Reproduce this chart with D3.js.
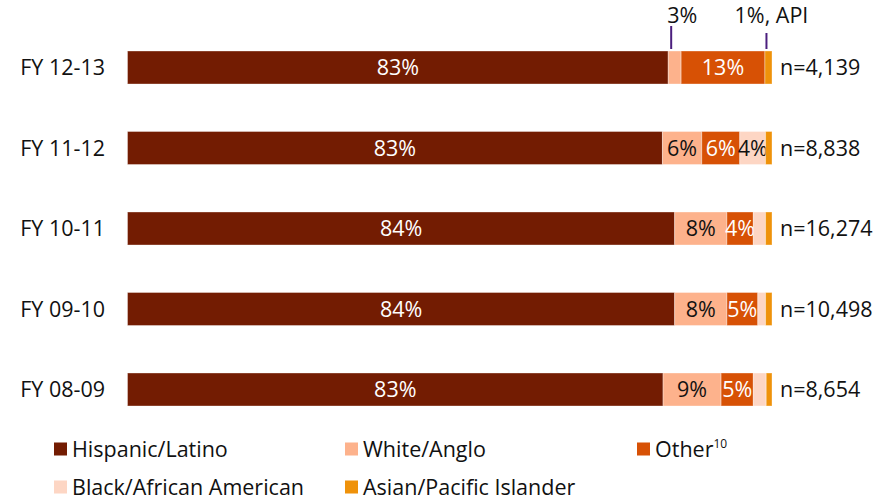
<!DOCTYPE html>
<html>
<head>
<meta charset="utf-8">
<script src="https://cdn.jsdelivr.net/npm/d3@7"></script>
<style>
  body { margin: 0; background: #fff; }
  svg { display: block; font-family: "Open Sans", sans-serif; }
</style>
</head>
<body>
<svg width="886" height="501"></svg>
<script>

  // DATA

  var years = ["FY 12-13", "FY 11-12", "FY 10-11", "FY 09-10", "FY 08-09"];
  var groups = ["Hispanic/Latino", "White/Anglo", "Other", "Black/African American", "Asian/Pacific Islander"];

  var hispanic = [83.9, 83.0, 84.9, 84.9, 83.1];
  var white = [2.0, 6.1, 8.1, 8.1, 9.0];
  var other = [13.0, 5.9, 4.1, 4.8, 5.0];
  var black = [0.0, 4.0, 1.9, 1.2, 2.0];
  var api = [1.1, 1.0, 1.0, 1.0, 0.9];

  // printed labels, as shown on the chart
  var hispanicLabels = ["83%", "83%", "84%", "84%", "83%"];
  var whiteLabels = ["", "6%", "8%", "8%", "9%"];
  var otherLabels = ["13%", "6%", "4%", "5%", "5%"];
  var blackLabels = ["", "4%", "", "", ""];
  var apiLabels = ["", "", "", "", ""];

  // labels too small for their segment, drawn above the top bar
  var calloutGroups = ["White/Anglo", "Asian/Pacific Islander"];
  var calloutTexts = ["3%", "1%, API"];

  var counts = ["n=4,139", "n=8,838", "n=16,274", "n=10,498", "n=8,654"];

  // SETUP

  var colors = ["#731c02", "#fdb28c", "#d75105", "#fdd6c4", "#ef920a"];
  var textColors = ["#fff", "#111", "#fff", "#111", "#111"];
  var fontSize = 21.5;

  var svg = d3.select("svg");

  var x = d3.scaleLinear().domain([0, 100]).range([127.5, 772]);
  var y = d3.scaleBand().domain(years).range([51, 406]).paddingInner(0.59).paddingOuter(0);
  var color = d3.scaleOrdinal().domain(groups).range(colors);

  var cols = [hispanic, white, other, black, api];
  var labelCols = [hispanicLabels, whiteLabels, otherLabels, blackLabels, apiLabels];

  var table = years.map(function (yr, i) {
    var row = { year: yr };
    groups.forEach(function (g, j) {
      row[g] = cols[j][i];
      row[g + "_label"] = labelCols[j][i];
    });
    return row;
  });

  var series = d3.stack().keys(groups)(table);

  // DRAWING

  var layer = svg.selectAll(".layer")
    .data(series)
    .enter().append("g")
    .attr("class", "layer")
    .attr("fill", function (d) { return color(d.key); });

  layer.selectAll("rect")
    .data(function (d) { return d; })
    .enter().append("rect")
    .attr("x", function (d) { return x(d[0]); })
    .attr("y", function (d) { return y(d.data.year); })
    .attr("width", function (d) { return Math.max(0, x(d[1]) - x(d[0])); })
    .attr("height", y.bandwidth())
    .attr("stroke", "#fff")
    .attr("stroke-opacity", 0.35)
    .attr("stroke-width", 1);

  layer.selectAll("text")
    .data(function (d) { return d.map(function (p) { p.key = d.key; return p; }); })
    .enter().append("text")
    .attr("x", function (d) { return (x(d[0]) + x(d[1])) / 2; })
    .attr("y", function (d) { return y(d.data.year) + y.bandwidth() / 2; })
    .attr("dy", "0.36em")
    .attr("text-anchor", "middle")
    .attr("font-size", fontSize)
    .attr("fill", function (d) { return textColors[groups.indexOf(d.key)]; })
    .text(function (d) { return d.data[d.key + "_label"]; });

  // category labels
  svg.selectAll(".year")
    .data(years)
    .enter().append("text")
    .attr("class", "year")
    .attr("x", 105)
    .attr("y", function (d) { return y(d) + y.bandwidth() / 2; })
    .attr("dy", "0.36em")
    .attr("text-anchor", "end")
    .attr("font-size", fontSize)
    .attr("fill", "#111")
    .text(function (d) { return d; });

  // n counts
  svg.selectAll(".count")
    .data(counts)
    .enter().append("text")
    .attr("class", "count")
    .attr("x", x(100) + 8)
    .attr("y", function (d, i) { return y(years[i]) + y.bandwidth() / 2; })
    .attr("dy", "0.36em")
    .attr("font-size", fontSize)
    .attr("fill", "#111")
    .text(function (d) { return d; });

  // callouts on the top bar
  var firstYear = years[0];
  var calloutOffsets = [-3.5, -2];
  var calloutShift = [11, 5];
  var calloutTops = [26, 33];

  calloutGroups.forEach(function (g, i) {
    var s = series[groups.indexOf(g)][0];
    var cx = (x(s[0]) + x(s[1])) / 2 + calloutOffsets[i];
    svg.append("line")
      .attr("x1", cx).attr("x2", cx)
      .attr("y1", calloutTops[i]).attr("y2", y(firstYear) - 2)
      .attr("stroke", "#4b1f7e")
      .attr("stroke-width", 2);
    svg.append("text")
      .attr("x", cx + calloutShift[i])
      .attr("y", 22.5)
      .attr("text-anchor", "middle")
      .attr("font-size", fontSize)
      .attr("fill", "#111")
      .text(calloutTexts[i]);
  });

  // LEGEND

  var legendX = [54, 345, 637];
  var legendY = [449, 487];

  var legend = svg.selectAll(".legend")
    .data(groups)
    .enter().append("g")
    .attr("class", "legend")
    .attr("transform", function (d, i) {
      return "translate(" + legendX[i % 3] + "," + legendY[Math.floor(i / 3)] + ")";
    });

  legend.append("rect")
    .attr("x", 0)
    .attr("y", -6.5)
    .attr("width", 13)
    .attr("height", 13)
    .attr("fill", function (d) { return color(d); });

  var legendText = legend.append("text")
    .attr("x", 18)
    .attr("dy", "0.36em")
    .attr("font-size", fontSize)
    .attr("fill", "#111")
    .text(function (d) { return d; });

  legendText.filter(function (d) { return d === "Other"; })
    .append("tspan")
    .attr("font-size", 12)
    .attr("dy", "-0.7em")
    .text("10");

</script>
</body>
</html>
